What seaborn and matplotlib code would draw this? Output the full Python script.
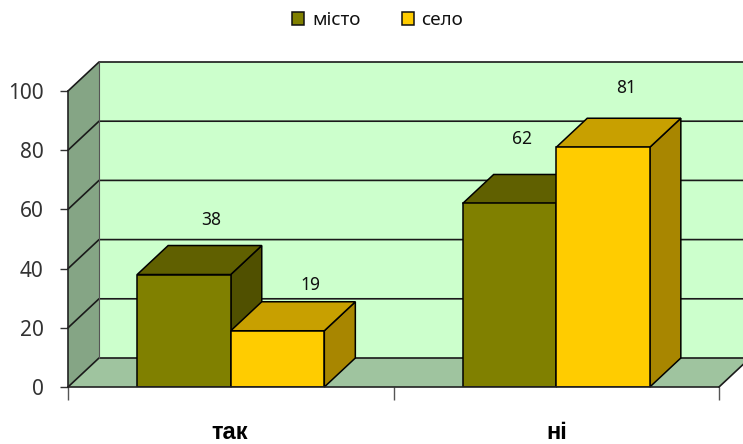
import matplotlib
matplotlib.use("Agg")
import matplotlib.pyplot as plt
from matplotlib.patches import Polygon, Rectangle
import pandas as pd
import seaborn as sns

categories = ["так", "ні"]
series_names = ["місто", "село"]
misto = [38, 62]
selo = [19, 81]
y_ticks = [0, 20, 40, 60, 80, 100]

W, H = 743, 444
sns.set_theme(style="white")
plt.rcParams["font.family"] = ["Noto Sans", "DejaVu Sans"]

df = pd.DataFrame({
    "cat": categories * 2,
    "series": [series_names[0]] * 2 + [series_names[1]] * 2,
    "value": misto + selo,
})

fig = plt.figure(figsize=(W / 100, H / 100), dpi=100, facecolor="white")
ax = fig.add_axes([68 / W, (H - 387) / H, (719 - 68) / W, (387 - 91) / H])

front = {"місто": "#808000", "село": "#FFCC00"}
top = {"місто": "#606000", "село": "#C8A000"}
side = {"місто": "#505000", "село": "#A88600"}

sns.barplot(data=df, x="cat", y="value", hue="series", order=categories,
            hue_order=series_names, palette=front, saturation=1, width=0.575,
            edgecolor="black", linewidth=1.1, legend=False, ax=ax, zorder=5)
ax.set_xlim(-0.5, 1.5)
ax.set_ylim(0, 100)

# depth of the 3D projection, in data units
dx = 31 / ((719 - 68) / 2)
dy = 29 / ((387 - 91) / 100)
x0, x1 = ax.get_xlim()


def poly(pts, color, z, lw=1.1, ec="black"):
    ax.add_patch(Polygon(pts, closed=True, facecolor=color, edgecolor=ec,
                         linewidth=lw, zorder=z, clip_on=False))


# back wall, left wall, floor
poly([(x0 + dx, dy), (x1 + dx, dy), (x1 + dx, 100 + dy), (x0 + dx, 100 + dy)], "#CCFFCC", 1, 0)
poly([(x0, 0), (x0 + dx, dy), (x0 + dx, 100 + dy), (x0, 100)], "#85A585", 1, 0)
poly([(x0, 0), (x1, 0), (x1 + dx, dy), (x0 + dx, dy)], "#9FC49F", 1, 0)

for t in y_ticks:
    ax.plot([x0, x0 + dx, x1 + dx], [t, t + dy, t + dy], color="#1a1a1a", lw=1.2,
            zorder=2, clip_on=False)
ax.plot([x0 + dx, x0 + dx], [dy, 100 + dy], color="#555555", lw=0.8, zorder=2, clip_on=False)
ax.plot([x1, x1 + dx], [0, dy], color="#1a1a1a", lw=1.2, zorder=2, clip_on=False)

# 3D faces of each bar, derived from the seaborn bars
bars = sorted([p for p in ax.patches if isinstance(p, Rectangle)], key=lambda r: r.get_x())
names = [series_names[0], series_names[1]] * 2
values = [misto[0], selo[0], misto[1], selo[1]]
label_off = [(27, 55), (33, 46), (13, 64), (23, 59)]
for i, (b, n, v, off) in enumerate(zip(bars, names, values, label_off)):
    l, r, h = b.get_x(), b.get_x() + b.get_width(), b.get_height()
    z = 3 + i * 0.1
    poly([(r, 0), (r + dx, dy), (r + dx, h + dy), (r, h)], side[n], z)
    poly([(l, h), (r, h), (r + dx, h + dy), (l + dx, h + dy)], top[n], z)
    ax.annotate(str(v), xy=((l + r) / 2, h), xytext=off, textcoords="offset pixels",
                ha="center", va="center", fontsize=12.5, color="#111111", zorder=10,
                annotation_clip=False)

ax.set_xlabel("")
ax.set_ylabel("")
ax.set_yticks(y_ticks)
ax.set_yticklabels([str(t) for t in y_ticks], fontsize=15, color="#333333")
ax.set_xticks([-0.5, 0.5, 1.5])
ax.set_xticklabels([])
ax.tick_params(axis="y", left=True, length=6, width=1, color="#333333", pad=11.5)
ax.tick_params(axis="x", bottom=True, length=9, width=1, color="#555555")
for s in ["top", "right"]:
    ax.spines[s].set_visible(False)
for s in ["left", "bottom"]:
    ax.spines[s].set_visible(True)
    ax.spines[s].set_color("#222222")
    ax.spines[s].set_linewidth(1.2)
    ax.spines[s].set_zorder(6)

for i, c in enumerate(categories):
    ax.annotate(c, xy=(i, 0), xytext=(-1 if i == 0 else 0, -45), textcoords="offset pixels",
                ha="center", va="center", fontsize=17, fontweight="bold", color="black",
                family=["Liberation Sans", "DejaVu Sans"], annotation_clip=False)

# legend
handles = [Rectangle((0, 0), 1, 1, facecolor=front[n], edgecolor="#111111", linewidth=1.1)
           for n in series_names]
fig.legend(handles, series_names, loc="upper left", bbox_to_anchor=(277 / W, 1 + 4 / H),
           ncol=2, frameon=False, fontsize=13.5, handlelength=0.66, handleheight=0.66,
           handletextpad=0.4, columnspacing=2.2, borderpad=0.3, labelcolor="#111111")

fig.savefig("out.png", dpi=100)
